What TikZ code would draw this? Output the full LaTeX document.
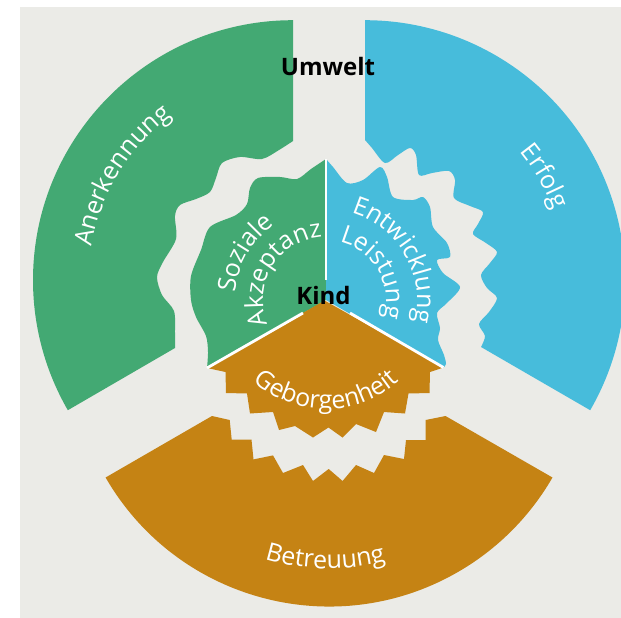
\documentclass[tikz,border=0pt]{standalone}
\usepackage{fontspec}
\setmainfont{Open Sans}
\usetikzlibrary{calc,decorations.text}
\definecolor{gruen}{RGB}{67,169,115}
\definecolor{blau}{RGB}{71,188,219}
\definecolor{ocker}{RGB}{197,131,20}
\definecolor{grund}{RGB}{235,235,231}
\newcommand\bogenschrift{\fontsize{25}{29}\selectfont}
\tikzset{
	trenner/.style={draw=white, line width=2.8pt},
	bogentext/.style={decorate, decoration={text along path, text align=center, text color=white, text={|\bogenschrift|#1}}},
	titel/.style={font=\bfseries\fontsize{24}{28}\selectfont, text=black, inner sep=0pt, anchor=base}
}

\begin{document}
\begin{tikzpicture}[x=1pt, y=1pt]
		%%%%% START %%%%%
		
		\path[use as bounding box, fill=white] (0,-618) rectangle (621,0);
		\fill[grund] (20,-7) rectangle (621,-618);
		
		\coordinate (mitte) at (326,-300);
		\coordinate (gm) at (293,-280.2);
		\coordinate (bm) at (365,-280.2);
		\coordinate (om) at (329,-348.5);
		
		% aeusserer Ring
		\fill[gruen] plot[smooth] coordinates {(175,-348) (175,-333) (174,-311) (162,-295) (157,-277) (163,-262) (176,-239) (175,-216) (180,-205) (196,-199) (210,-192) (216,-178) (222,-163) (240,-157) (262,-159) (279,-150) (293,-141)}
			-- (293,-20.2) arc (90:210:260) -- cycle;
		\fill[blau] plot[smooth] coordinates {(365,-140) (372,-148) (385,-163) (398,-155) (410,-148) (416,-155) (419,-175) (432,-173) (449,-171) (455,-180) (454,-198) (470,-206) (483,-212) (478,-224) (473,-234) (486,-243) (497,-252) (490,-263) (481,-275) (487,-288) (497,-298) (489,-312) (479,-324) (485,-336) (481,-347)}
			-- (590.2,-410.2) arc (-30:90:260) -- cycle;
		\fill[ocker] (212,-416) -- (105.6,-477.5) arc (210:330:258) -- (445.5,-416)
			-- (425.7,-420) -- (425.7,-440) -- (406,-440) -- (404,-459) -- (384,-455) -- (374,-473) -- (356,-465) -- (342.6,-481) -- (328.7,-469)
			-- (313,-481) -- (303,-465) -- (283,-473) -- (273,-455.4) -- (253.5,-459.4) -- (251.5,-439.6) -- (231.7,-439.6) -- (229.7,-420) -- cycle;
		
		% innerer Kreis
		\fill[gruen] (mitte) -- (326,-159) -- plot[smooth] coordinates {(326,-159) (311,-169) (297,-179) (280,-177) (258,-178) (250,-188) (247,-204) (236,-215) (210,-227) (201,-250) (191,-276) (191,-300) (196,-317) (206,-336) (208,-352) (207,-368)} -- cycle;
		\fill[blau] (mitte) -- (326,-159) -- plot[smooth] coordinates {(326,-159) (333,-167) (347,-183) (363,-180) (380,-167) (387,-177) (393,-197) (413,-200) (423,-197) (430,-207) (433,-227) (447,-243) (450,-257) (437,-260) (443,-273) (460,-287) (447,-303) (437,-313) (440,-328) (438,-340) (444,-355) (446,-364) (443.5,-367.5)} -- cycle;
		\fill[ocker] (324.5,-300.5) -- (207,-368) -- (225.5,-372) -- (226,-393) -- (247,-393.5) -- (250,-413.5) -- (273,-412) -- (279,-430) -- (295,-426) -- (313,-437.5) -- (328.5,-427.5)
			-- (342.5,-437.5) -- (356,-424) -- (376,-432) -- (384,-412) -- (405,-413.5) -- (408.5,-393.5) -- (429.5,-393) -- (430,-372) -- (443.5,-367.5) -- cycle;
		
		\draw[trenner] (326,-159) -- (326,-280);
		\draw[trenner] (207,-368) -- (303,-313);
		\draw[trenner] (350,-313) -- (443.5,-367.5);
		
		% Beschriftung
		\path[bogentext=Anerkennung] ($(gm)+(188.5:204)$) arc (188.5:108.5:204);
		\path[bogentext=Erfolg] ($(bm)+(60:201)$) arc (60:0:201);
		\path[bogentext=Betreuung] ($(om)+(234:220)$) arc (234:304:220);
		\path[bogentext=Soziale] ($(mitte)+(195:91)$) arc (195:105:91);
		\path[bogentext=Akzeptanz] ($(mitte)+(225:63)$) arc (225:71:63);
		\path[bogentext=Entwicklung] ($(mitte)+(85:91)$) arc (85:-25:91);
		\path[bogentext=Leistung] ($(mitte)+(100:60)$) arc (100:-40:60);
		\path[bogentext=Geborgenheit] ($(mitte)+(210:109)$) arc (210:330:109);
		
		\node[titel] (umwelt) at (328,-75) {Umwelt};
		\node[titel] (kind) at (323.5,-304) {Kind};
		
		%%%%% END %%%%%
\end{tikzpicture}
\end{document}
